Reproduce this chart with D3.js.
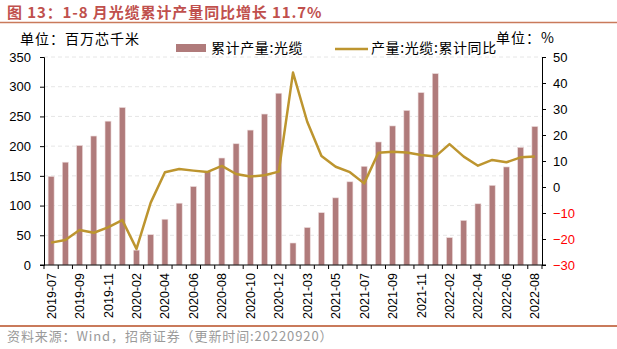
<!DOCTYPE html>
<html>
<head>
<meta charset="utf-8">
<script src="https://cdn.jsdelivr.net/npm/d3@7"></script>
<style>
  body { margin: 0; background: #fff; }
  svg { display: block; font-family: 'Liberation Sans', Arial, sans-serif; }
  .cjk { font-family: 'Noto Sans CJK SC', sans-serif; }
</style>
</head>
<body>
<svg id="chart" width="617" height="349"></svg>
<script>
const months = [
  '2019-07', '2019-08', '2019-09', '2019-10', '2019-11', '2019-12',
  '2020-02', '2020-03', '2020-04', '2020-05', '2020-06', '2020-07', '2020-08', '2020-09', '2020-10', '2020-11', '2020-12',
  '2021-02', '2021-03', '2021-04', '2021-05', '2021-06', '2021-07', '2021-08', '2021-09', '2021-10', '2021-11', '2021-12',
  '2022-02', '2022-03', '2022-04', '2022-05', '2022-06', '2022-07', '2022-08',
];
// 累计产量:光缆 (百万芯千米)
const output = [
  149, 173, 201, 217, 242, 265,
  25, 51, 77, 104, 132, 157, 180, 204, 227, 254, 289,
  37, 63, 88, 113, 140, 166, 207, 234, 260, 290, 322,
  46, 75, 103, 134, 165, 198, 233,
];
// 产量:光缆:累计同比 (%)
const yoy = [
  -21.4, -20.4, -16.5, -17.6, -15.5, -12.7,
  -23.8, -6, 5.7, 6.9, 6.3, 5.8, 8.1, 5, 4, 4.5, 5.9,
  44, 25.1, 11.9, 7.8, 5.7, 1.4, 13.2, 13.6, 13.3, 12.3, 11.7,
  16.5, 11.7, 8.2, 10.4, 9.5, 11.4, 11.7,
];
const leftTicks = [0, 50, 100, 150, 200, 250, 300, 350];
const rightTicks = [-30, -20, -10, 0, 10, 20, 30, 40, 50];

const barColor = '#b07b7b';
const lineColor = '#bd952f';
const accent = '#c97a5b';

const margin = { left: 44, right: 75, top: 57, bottom: 84 };
const W = 617, H = 349;
const plotW = W - margin.left - margin.right;
const plotH = H - margin.top - margin.bottom;

const svg = d3.select('#chart');

// Title and rules
svg.append('text').attr('class', 'cjk').attr('x', 7).attr('y', 18)
  .attr('font-size', 15).attr('letter-spacing', 0.9).attr('font-weight', 'bold').attr('fill', '#c0504d')
  .text('图 13：1-8 月光缆累计产量同比增长 11.7%');
svg.append('line').attr('x1', 0).attr('x2', W).attr('y1', 22.5).attr('y2', 22.5)
  .attr('stroke', accent).attr('stroke-width', 1.5);
svg.append('line').attr('x1', 0).attr('x2', W).attr('y1', 326).attr('y2', 326)
  .attr('stroke', accent).attr('stroke-width', 2);
svg.append('text').attr('class', 'cjk').attr('x', 7).attr('y', 341)
  .attr('font-size', 13).attr('letter-spacing', 0.9).attr('fill', '#9a9a9a')
  .text('资料来源：Wind，招商证券（更新时间:20220920）');

svg.append('text').attr('class', 'cjk').attr('x', 20).attr('y', 44)
  .attr('font-size', 14).attr('letter-spacing', 1).attr('fill', '#000').text('单位：百万芯千米');
svg.append('text').attr('class', 'cjk').attr('x', 496).attr('y', 43)
  .attr('font-size', 14).attr('letter-spacing', 1).attr('fill', '#000').text('单位：%');

const chart = svg.append('g').attr('transform', `translate(${margin.left},${margin.top})`);

const x = d3.scaleBand().domain(months).range([0, plotW]).paddingInner(0.58).paddingOuter(0.29);
const yL = d3.scaleLinear().domain([0, 350]).range([plotH, 0]);
const yR = d3.scaleLinear().domain([-30, 50]).range([plotH, 0]);

// Grid
chart.append('g').selectAll('line').data(leftTicks.slice(1)).join('line')
  .attr('x1', 0).attr('x2', plotW)
  .attr('y1', (d) => yL(d)).attr('y2', (d) => yL(d))
  .attr('stroke', '#e6e6e6').attr('stroke-dasharray', '4,3');

// Bars
chart.append('g').selectAll('rect').data(output).join('rect')
  .attr('x', (d, i) => x(months[i]))
  .attr('y', (d) => yL(d))
  .attr('width', x.bandwidth())
  .attr('height', (d) => plotH - yL(d))
  .attr('fill', barColor)
  .attr('stroke', '#ecdada').attr('stroke-width', 0.6);

// Line
const line = d3.line()
  .x((d, i) => x(months[i]) + x.bandwidth() / 2)
  .y((d) => yR(d));
chart.append('path').datum(yoy)
  .attr('d', line).attr('fill', 'none')
  .attr('stroke', lineColor).attr('stroke-width', 2.5).attr('stroke-linejoin', 'round');

// Left axis
const gL = chart.append('g')
  .call(d3.axisLeft(yL).tickValues(leftTicks).tickSize(4).tickPadding(9));
gL.selectAll('text').attr('font-size', 13).attr('fill', '#000');

// Right axis
const gR = chart.append('g').attr('transform', `translate(${plotW},0)`)
  .call(d3.axisRight(yR).tickValues(rightTicks).tickSize(4).tickPadding(7));
gR.selectAll('text').attr('font-size', 13)
  .attr('fill', (d) => (d < 0 ? '#ff0000' : '#000'));

// X axis: ticks at category boundaries, labels every other month
const step = x.step();
const bounds = d3.range(months.length + 1);
const gX = chart.append('g').attr('transform', `translate(0,${plotH})`);
gX.append('line').attr('x1', -4).attr('x2', plotW + 4).attr('stroke', '#000');
gX.selectAll('line.tk').data(bounds).join('line').attr('class', 'tk')
  .attr('x1', (d) => d * step).attr('x2', (d) => d * step)
  .attr('y1', 0).attr('y2', 4).attr('stroke', '#000');
gX.selectAll('text').data(months.filter((d, i) => i % 2 === 0)).join('text')
  .attr('transform', (d) => `translate(${x(d) + x.bandwidth() / 2 + 4.5},8) rotate(-90)`)
  .attr('text-anchor', 'end').attr('font-size', 12.5).attr('fill', '#000')
  .text((d) => d);

chart.selectAll('.domain').attr('stroke', '#000');
chart.selectAll('.tick line').attr('stroke', '#000');

// Legend
const lg = svg.append('g');
lg.append('rect').attr('x', 176).attr('y', 44).attr('width', 30).attr('height', 8).attr('fill', barColor);
lg.append('text').attr('class', 'cjk').attr('x', 211).attr('y', 53)
  .attr('font-size', 14).attr('letter-spacing', 0.6).attr('fill', '#000').text('累计产量:光缆');
lg.append('line').attr('x1', 335).attr('x2', 368).attr('y1', 49).attr('y2', 49)
  .attr('stroke', lineColor).attr('stroke-width', 2.5);
lg.append('text').attr('class', 'cjk').attr('x', 371).attr('y', 53)
  .attr('font-size', 14).attr('letter-spacing', 0.6).attr('fill', '#000').text('产量:光缆:累计同比');
</script>
</body>
</html>
